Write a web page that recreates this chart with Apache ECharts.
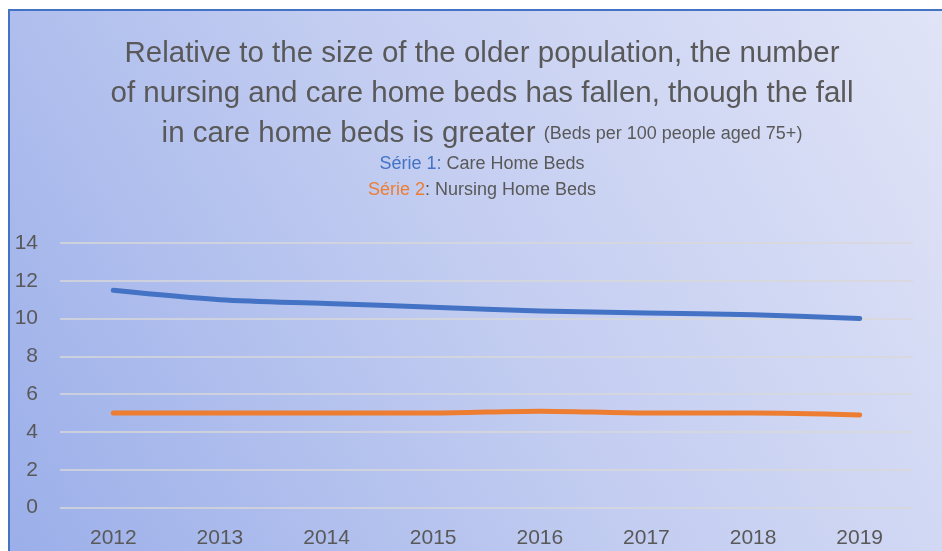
<!DOCTYPE html>
<html>
<head>
<meta charset="utf-8">
<script src="https://cdn.jsdelivr.net/npm/echarts@6/dist/echarts.min.js"></script>
<style>html,body{margin:0;padding:0;background:#fff}#c{width:942px;height:551px}</style>
</head>
<body>
<div id="c"></div>
<script>
var years = ['2012','2013','2014','2015','2016','2017','2018','2019'];
var careHomeBeds = [11.5, 11.0, 10.8, 10.6, 10.4, 10.3, 10.2, 10.0];
var nursingHomeBeds = [5.0, 5.0, 5.0, 5.0, 5.1, 5.0, 5.0, 4.9];
var yTicks = {min: 0, max: 14, interval: 2};

var FONT = '"Liberation Sans", sans-serif';
var GRAY = '#595959';
var CX = 477;
var chart = echarts.init(document.getElementById('c'));
chart.setOption({
  animation: false,
  graphic: [{
    type: 'rect', z: -10, silent: true,
    shape: {x: 9, y: 10, width: 960, height: 560},
    style: {
      fill: new echarts.graphic.LinearGradient(0, 1, 1, 0, [
        {offset: 0, color: '#9AAEE9'},
        {offset: 0.5, color: '#C3CDF1'},
        {offset: 1, color: '#E2E5F7'}
      ]),
      stroke: '#4472C4', lineWidth: 2
    }
  }],
  title: [
    {text: 'Relative to the size of the older population, the number', left: CX, textAlign: 'center', top: 34,
     textStyle: {fontFamily: FONT, fontSize: 29.5, fontWeight: 'normal', color: GRAY}},
    {text: 'of nursing and care home beds has fallen, though the fall', left: CX, textAlign: 'center', top: 74,
     textStyle: {fontFamily: FONT, fontSize: 29.5, fontWeight: 'normal', color: GRAY}},
    {text: '{a|in care home beds is greater }{b|(Beds per 100 people aged 75+)}', left: CX, textAlign: 'center', top: 114,
     textStyle: {rich: {
       a: {fontFamily: FONT, fontSize: 29.5, fontWeight: 'normal', color: GRAY},
       b: {fontFamily: FONT, fontSize: 18, fontWeight: 'normal', color: GRAY}
     }}},
    {text: '{b|Série 1:}{g| Care Home Beds}', left: CX, textAlign: 'center', top: 150,
     textStyle: {rich: {
       b: {fontFamily: FONT, fontSize: 18, fontWeight: 'normal', color: '#4472C4'},
       g: {fontFamily: FONT, fontSize: 18, fontWeight: 'normal', color: GRAY}
     }}},
    {text: '{o|Série 2}{g|: Nursing Home Beds}', left: CX, textAlign: 'center', top: 176,
     textStyle: {rich: {
       o: {fontFamily: FONT, fontSize: 18, fontWeight: 'normal', color: '#ED7D31'},
       g: {fontFamily: FONT, fontSize: 18, fontWeight: 'normal', color: GRAY}
     }}}
  ],
  grid: {left: 60, right: 29, top: 243, bottom: 43.5, containLabel: false},
  xAxis: {
    type: 'category', data: years, boundaryGap: true,
    axisLine: {show: false}, axisTick: {show: false},
    axisLabel: {fontFamily: FONT, fontSize: 21, color: GRAY, margin: 20}
  },
  yAxis: {
    type: 'value', min: yTicks.min, max: yTicks.max, interval: yTicks.interval,
    axisLine: {show: false}, axisTick: {show: false},
    axisLabel: {fontFamily: FONT, fontSize: 21, color: GRAY, margin: 22},
    splitLine: {lineStyle: {color: '#D9D9D9', width: 1.5}}
  },
  series: [
    {name: 'Care Home Beds', type: 'line', data: careHomeBeds, smooth: 0.3, symbol: 'none',
     lineStyle: {color: '#4472C4', width: 5, cap: 'round', join: 'round'}},
    {name: 'Nursing Home Beds', type: 'line', data: nursingHomeBeds, smooth: 0.3, symbol: 'none',
     lineStyle: {color: '#ED7D31', width: 5, cap: 'round', join: 'round'}}
  ]
});
</script>
</body>
</html>
